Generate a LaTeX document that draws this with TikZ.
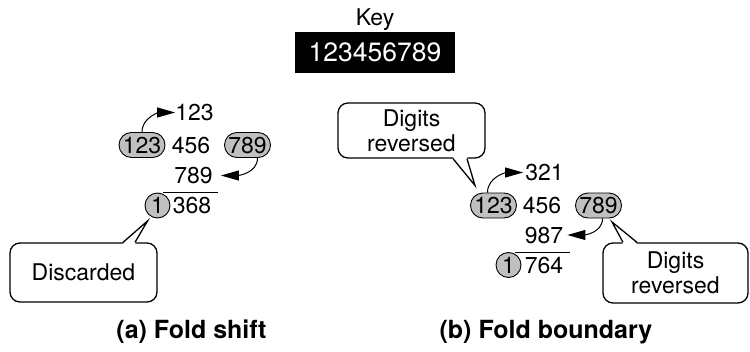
\documentclass[tikz,border=0pt]{standalone}
\usepackage{fontspec}
\setmainfont{TeX Gyre Heros}
\usetikzlibrary{arrows.meta}
\definecolor{ovalgray}{RGB}{192,192,192}
\tikzset{
  digits/.style={font=\fontsize{23}{25}\selectfont, inner sep=0pt, text height=16.5pt, text depth=0pt},
  oval/.style={digits, draw, fill=ovalgray, line width=0.9pt, minimum width=46pt, minimum height=25pt, rounded corners=12.5pt},
  onec/.style={digits, circle, draw, fill=ovalgray, line width=0.9pt, minimum size=25pt},
  callbox/.style={draw, fill=white, line width=1.3pt, rounded corners=10pt, align=center, inner sep=0pt, font=\fontsize{23}{25}\selectfont},
  ptr/.style={line width=1.3pt, line join=miter},
  arr/.style={-{Triangle[length=18pt,width=10pt]}, line width=1pt},
  rule/.style={line width=1pt},
  title/.style={font=\fontsize{25}{28}\selectfont\bfseries, inner sep=0pt, anchor=base}
}
\begin{document}
\begin{tikzpicture}[x=1pt,y=-1pt]
\useasboundingbox (0,0) rectangle (750,351);
% key
\node[digits] (keylbl) at (375,17) {Key};
\node[fill=black, text=white, inner sep=0pt, minimum width=160pt, minimum height=41pt, font=\fontsize{26.5}{28}\selectfont] (key) at (375,52.5) {123456789};
% (a) fold shift
\node[digits] (ta) at (194.5,112.5) {123};
\node[oval] (l123) at (142,145) {123};
\node[digits] (l456) at (191,145) {456};
\node[oval] (l789) at (247.5,145) {789};
\node[digits] (m789) at (193.5,175.5) {789};
\node[onec] (l1) at (157.5,205.5) {1};
\node[digits] (l368) at (192,205.5) {368};
\draw[rule] (163,192) -- (218,192);
\draw[arr] (l123.north) to[out=90,in=180] (ta.west);
\draw[arr] ([shift={(10,0)}]l789.south) to[out=-90,in=0] ([shift={(8,0)}]m789.east);
% callout discarded
\node[callbox, minimum width=147pt, minimum height=59pt] (cd) at (83.5,272.5) {Discarded};
\coordinate (tA) at ([shift={(-10,15.5)}]l1.center);
\coordinate (cdb1) at ([shift={(39.5,0)}]cd.north);
\coordinate (cdb2) at ([shift={(51.5,0)}]cd.north);
\fill[white] ([shift={(0,1.5)}]cdb1) -- (tA) -- ([shift={(0,1.5)}]cdb2) -- cycle;
\draw[ptr] (cdb1) -- (tA) -- (cdb2);
% (b) fold boundary
\node[digits] (t321) at (544.5,172.5) {321};
\node[oval] (r123) at (493.5,205.5) {123};
\node[digits] (r456) at (542,205.5) {456};
\node[oval] (r789) at (598.5,205.5) {789};
\node[digits] (m987) at (544,235) {987};
\node[onec] (r1) at (508.5,265) {1};
\node[digits] (r764) at (544,265) {764};
\draw[rule] (515,252) -- (570,252);
\draw[arr] ([shift={(-6,0)}]r123.north) to[out=90,in=180] ([shift={(-2,0)}]t321.west);
\draw[arr] ([shift={(4,0)}]r789.south) to[out=-90,in=0] ([shift={(4,0)}]m987.east);
% callout top
\node[callbox, minimum width=147pt, minimum height=55pt] (cr1) at (411.5,130.5) {Digits\\reversed};
\coordinate (tB) at ([shift={(-18.5,-20)}]r123.center);
\coordinate (crb1) at ([shift={(41.5,0)}]cr1.south);
\coordinate (crb2) at ([shift={(55.5,0)}]cr1.south);
\fill[white] ([shift={(0,-1.5)}]crb1) -- (tB) -- ([shift={(0,-1.5)}]crb2) -- cycle;
\draw[ptr] (crb1) -- (tB) -- (crb2);
% callout bottom
\node[callbox, minimum width=145pt, minimum height=60pt] (cr2) at (675.5,273) {Digits\\reversed};
\coordinate (tC) at ([shift={(13.5,16.5)}]r789.center);
\coordinate (cqb1) at ([shift={(-52.5,0)}]cr2.north);
\coordinate (cqb2) at ([shift={(-38.5,0)}]cr2.north);
\fill[white] ([shift={(0,1.5)}]cqb1) -- (tC) -- ([shift={(0,1.5)}]cqb2) -- cycle;
\draw[ptr] (cqb1) -- (tC) -- (cqb2);
% titles
\node[title] (tita) at (191.5,338) {(a) Fold shift};
\node[title] (titb) at (546,338) {(b) Fold boundary};
\end{tikzpicture}
\end{document}
